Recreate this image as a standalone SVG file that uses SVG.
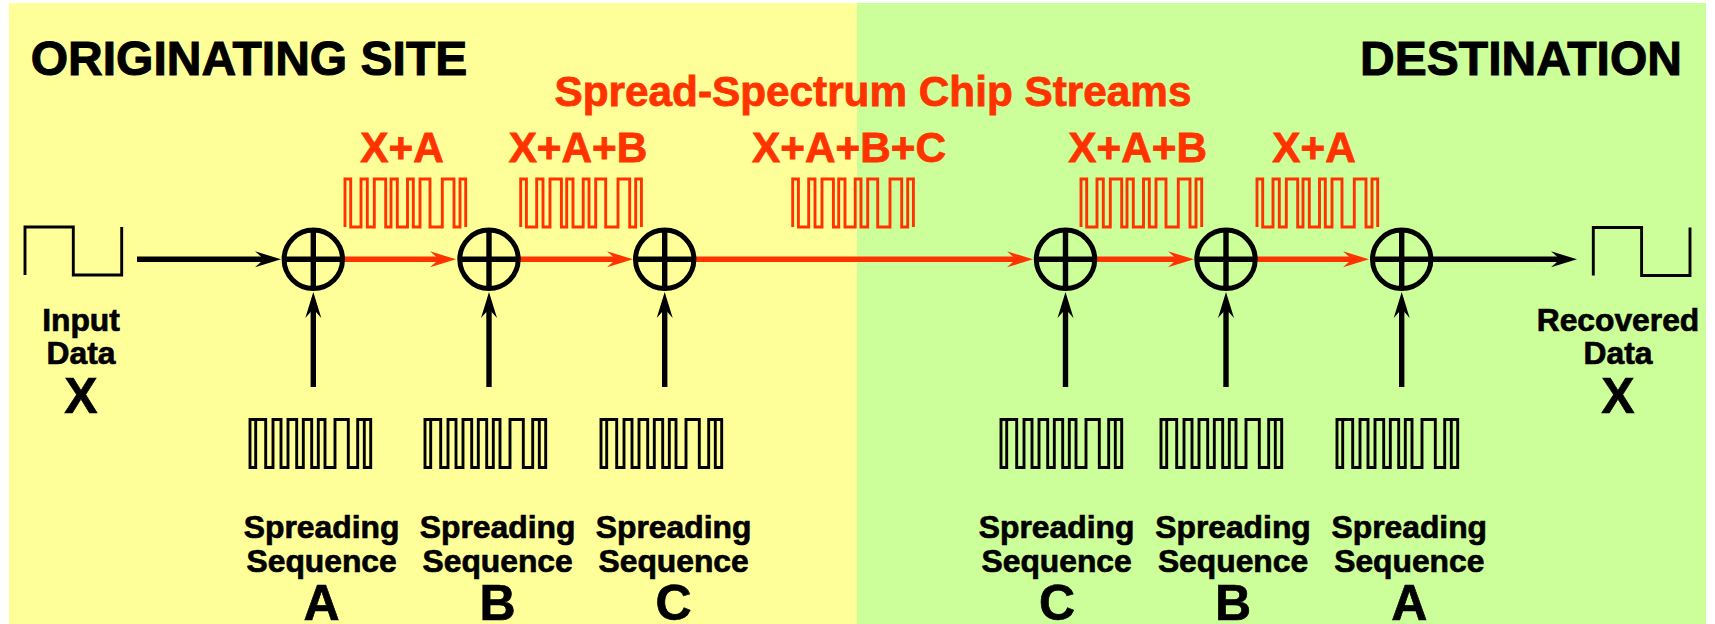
<svg xmlns="http://www.w3.org/2000/svg" width="1715" height="624" viewBox="0 0 1715 624">
<style>
text{font-family:"Liberation Sans",Arial,sans-serif;font-weight:bold;text-anchor:middle;fill:#000;stroke:#000;stroke-width:.7px}
.title{font-size:48px;stroke-width:1px}
text.red{fill:#FF3300;stroke:#FF3300}
.chip{font-size:42.3px;stroke-width:.8px}
.small{font-size:31.8px}
.big{font-size:50px}
.wave{fill:none;stroke-width:2.9;stroke-linejoin:miter;stroke-linecap:butt}
.k{stroke:#000}
.r{stroke:#FF3300}
.conn{fill:none;stroke-width:5.4}
.ring{fill:none;stroke:#000;stroke-width:5}
</style>
<defs>
<marker id="headK" markerUnits="userSpaceOnUse" markerWidth="30" markerHeight="20" viewBox="0 -10 30 20" refX="14" refY="0" orient="auto"><path d="M0 -8 L26 0 L0 8 L9 0Z" fill="#000"/></marker>
<marker id="headR" markerUnits="userSpaceOnUse" markerWidth="30" markerHeight="20" viewBox="0 -10 30 20" refX="14" refY="0" orient="auto"><path d="M0 -8 L26 0 L0 8 L9 0Z" fill="#FF3300"/></marker>
<path id="seqK" d="M5.7 0H0V48H5.7V0H15.7V48H23V0H31V48H38V0H46.7V48H53.3V0H61.7V48H68.3V0H75V48H85V0H98.3V48H107.7V0H114.3V48H120.7V0H114.3"/>
<path id="seqR" d="M0 48V0H5.7V48H16V0H22.3V48H29.3V0H40.7V48H46V0H52.3V48H62.5V0H68.3V48H75V0H85V48H97.3V0H109V48H115V0H120.7V48"/>
<path id="data" d="M0 48V0H48.3V48H96.7V0"/>
</defs>
<g id="backgrounds">
<rect x="9" y="3" width="848" height="621" fill="#FFFF99"/>
<rect x="857" y="3" width="849" height="621" fill="#CCFF99"/>
</g>
<g id="titles">
<text class="title" x="249" y="75">ORIGINATING SITE</text>
<text class="title" x="1521" y="75">DESTINATION</text>
<text class="chip red" x="873" y="106">Spread-Spectrum Chip Streams</text>
</g>
<g id="connectors">
<path class="conn k" d="M137 259.3H269" marker-end="url(#headK)"/>
<path class="conn r" d="M343 259.3H444" marker-end="url(#headR)"/>
<path class="conn r" d="M519 259.3H621" marker-end="url(#headR)"/>
<path class="conn r" d="M695 259.3H1021" marker-end="url(#headR)"/>
<path class="conn r" d="M1095 259.3H1182" marker-end="url(#headR)"/>
<path class="conn r" d="M1256 259.3H1357" marker-end="url(#headR)"/>
<path class="conn k" d="M1431 259.3H1565" marker-end="url(#headK)"/>
<path class="conn k" d="M313.3 387V304" marker-end="url(#headK)"/>
<path class="conn k" d="M489 387V304" marker-end="url(#headK)"/>
<path class="conn k" d="M664.7 387V304" marker-end="url(#headK)"/>
<path class="conn k" d="M1065.5 387V304" marker-end="url(#headK)"/>
<path class="conn k" d="M1226 387V304" marker-end="url(#headK)"/>
<path class="conn k" d="M1401.7 387V304" marker-end="url(#headK)"/>
</g>
<g id="input"><use href="#data" class="wave k" x="25" y="227"/><text class="small" x="81" y="331">Input</text><text class="small" x="81" y="363.5">Data</text><text class="big" x="81" y="413">X</text></g>
<g id="output"><use href="#data" class="wave k" x="1593.3" y="227.5"/><text class="small" x="1618" y="331">Recovered</text><text class="small" x="1618" y="363.5">Data</text><text class="big" x="1618" y="413">X</text></g>
<g id="adder1"><circle class="ring" cx="313.3" cy="259.3" r="29.2"/><path class="conn k" d="M284 259.3H343M313.3 230V289"/></g>
<g id="adder2"><circle class="ring" cx="489" cy="259.3" r="29.2"/><path class="conn k" d="M460 259.3H518M489 230V289"/></g>
<g id="adder3"><circle class="ring" cx="664.7" cy="259.3" r="29.2"/><path class="conn k" d="M635 259.3H694M664.7 230V289"/></g>
<g id="adder4"><circle class="ring" cx="1065.5" cy="259.3" r="29.2"/><path class="conn k" d="M1036 259.3H1095M1065.5 230V289"/></g>
<g id="adder5"><circle class="ring" cx="1226" cy="259.3" r="29.2"/><path class="conn k" d="M1197 259.3H1255M1226 230V289"/></g>
<g id="adder6"><circle class="ring" cx="1401.7" cy="259.3" r="29.2"/><path class="conn k" d="M1372 259.3H1431M1401.7 230V289"/></g>
<g id="stream1"><text class="chip red" x="402" y="161.5">X+A</text><use href="#seqR" class="wave r" x="345" y="179"/></g>
<g id="stream2"><text class="chip red" x="578" y="161.5">X+A+B</text><use href="#seqR" class="wave r" x="520.7" y="179"/></g>
<g id="stream3"><text class="chip red" x="849" y="161.5">X+A+B+C</text><use href="#seqR" class="wave r" x="792.7" y="179"/></g>
<g id="stream4"><text class="chip red" x="1137.6" y="161.5">X+A+B</text><use href="#seqR" class="wave r" x="1081" y="179"/></g>
<g id="stream5"><text class="chip red" x="1314" y="161.5">X+A</text><use href="#seqR" class="wave r" x="1257" y="179"/></g>
<g id="seqA1"><use href="#seqK" class="wave k" x="250" y="419.5"/><text class="small" x="321.6" y="538">Spreading</text><text class="small" x="321.6" y="571.5">Sequence</text><text class="big" x="321.6" y="620">A</text></g>
<g id="seqB1"><use href="#seqK" class="wave k" x="425" y="419.5"/><text class="small" x="497.6" y="538">Spreading</text><text class="small" x="497.6" y="571.5">Sequence</text><text class="big" x="497.6" y="620">B</text></g>
<g id="seqC1"><use href="#seqK" class="wave k" x="601" y="419.5"/><text class="small" x="673.6" y="538">Spreading</text><text class="small" x="673.6" y="571.5">Sequence</text><text class="big" x="673.6" y="620">C</text></g>
<g id="seqC2"><use href="#seqK" class="wave k" x="1001" y="419.5"/><text class="small" x="1056.6" y="538">Spreading</text><text class="small" x="1056.6" y="571.5">Sequence</text><text class="big" x="1057" y="620">C</text></g>
<g id="seqB2"><use href="#seqK" class="wave k" x="1161" y="419.5"/><text class="small" x="1233" y="538">Spreading</text><text class="small" x="1233" y="571.5">Sequence</text><text class="big" x="1233" y="620">B</text></g>
<g id="seqA2"><use href="#seqK" class="wave k" x="1337" y="419.5"/><text class="small" x="1409.3" y="538">Spreading</text><text class="small" x="1409.3" y="571.5">Sequence</text><text class="big" x="1409.3" y="620">A</text></g>
</svg>
